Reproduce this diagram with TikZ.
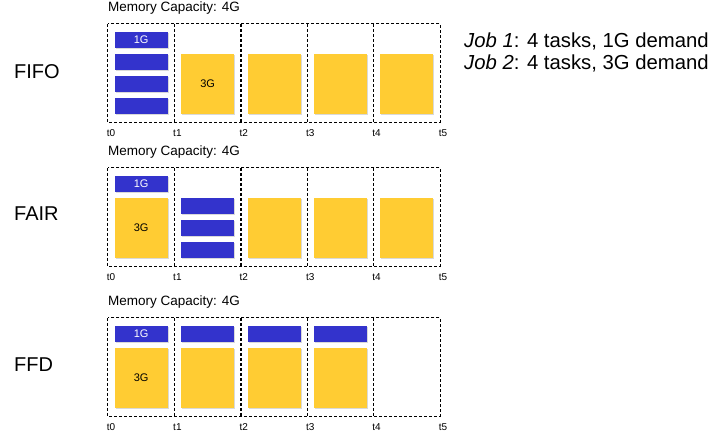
\documentclass[tikz,border=0pt]{standalone}
\usepackage{fontspec}
\setmainfont{Liberation Sans}
\usepackage{tikz}
\usetikzlibrary{shadows}
\definecolor{taskblue}{HTML}{3333CC}
\definecolor{taskyellow}{HTML}{FFCC33}

\begin{document}
\begin{tikzpicture}[x=1pt, y=-1pt,
    cell/.style={rectangle, minimum width=66.4pt, minimum height=98pt, inner sep=0pt},
    slot/.style={dash pattern=on 3pt off 2pt, line width=0.9pt},
    tick/.style={font=\fontsize{10}{10}\selectfont, inner sep=0pt},
    capacity/.style={anchor=west, font=\fontsize{13.5}{14}\selectfont, inner sep=0pt},
    policy/.style={anchor=west, font=\fontsize{20}{20}\selectfont, inner sep=0pt},
    legend/.style={anchor=base west, font=\fontsize{20.3}{22}\selectfont, inner sep=0pt},
    onetask/.style={rectangle, fill=taskblue, minimum width=53pt, minimum height=16pt, inner sep=0pt, text=white, font=\fontsize{11}{11}\selectfont, drop shadow={shadow xshift=1pt, shadow yshift=-1.5pt, opacity=0.3}},
    threetask/.style={rectangle, fill=taskyellow, minimum width=53pt, minimum height=60pt, inner sep=0pt, font=\fontsize{11}{11}\selectfont, drop shadow={shadow xshift=1pt, shadow yshift=-1.5pt, opacity=0.3}},
]
    \useasboundingbox (0,0) rectangle (726,438);

    % time slots of the three schedules
    \foreach \p/\T in {1/24, 2/168, 3/318} {
        \node[capacity] (cap\p) at (108, \T-15.5) {Memory Capacity: 4G};
        \foreach \i in {0,...,4}
            \node[cell] (c\p\i) at (108+66.4*\i+33.2, \T+49) {};
        \draw[slot] (c\p0.north west) rectangle (c\p4.south east);
        \foreach \i in {0,...,3}
            \draw[slot, line width=1.3pt] (c\p\i.north east) -- (c\p\i.south east);
        \foreach \i in {0,...,5}
            \node[tick] (t\p\i) at (108+66.4*\i+3, \T+109) {t\i};
    }

    \node[policy] (fifo) at (14,72) {FIFO};
    \node[policy] (fair) at (14,214) {FAIR};
    \node[policy] (ffd) at (14,365) {FFD};

    \node[legend] (job1) at (464,48) {\textit{Job 1}: 4 tasks, 1G demand};
    \node[legend] (job2) at (464,70) {\textit{Job 2}: 4 tasks, 3G demand};

    % FIFO
    \node[onetask] (a1) at (141.2,40) {1G};
    \node[onetask] (a2) at (141.2,62) {};
    \node[onetask] (a3) at (141.2,84) {};
    \node[onetask] (a4) at (141.2,106) {};
    \node[threetask] (b1) at (207.6,84) {3G};
    \node[threetask] (b2) at (274,84) {};
    \node[threetask] (b3) at (340.4,84) {};
    \node[threetask] (b4) at (406.8,84) {};

    % FAIR
    \node[onetask] (d1) at (141.2,184) {1G};
    \node[threetask] (e1) at (141.2,228) {3G};
    \node[onetask] (d2) at (207.6,206) {};
    \node[onetask] (d3) at (207.6,228) {};
    \node[onetask] (d4) at (207.6,250) {};
    \node[threetask] (e2) at (274,228) {};
    \node[threetask] (e3) at (340.4,228) {};
    \node[threetask] (e4) at (406.8,228) {};

    % FFD
    \node[onetask] (f1) at (141.2,334) {1G};
    \node[threetask] (g1) at (141.2,378) {3G};
    \node[onetask] (f2) at (207.6,334) {};
    \node[threetask] (g2) at (207.6,378) {};
    \node[onetask] (f3) at (274,334) {};
    \node[threetask] (g3) at (274,378) {};
    \node[onetask] (f4) at (340.4,334) {};
    \node[threetask] (g4) at (340.4,378) {};
\end{tikzpicture}
\end{document}
